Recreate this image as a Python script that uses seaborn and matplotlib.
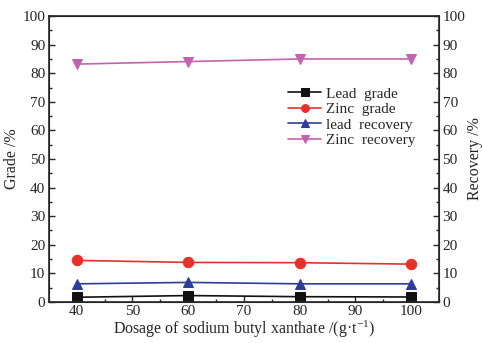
import matplotlib
matplotlib.use("Agg")
import matplotlib.pyplot as plt
import seaborn as sns
import pandas as pd
from matplotlib.ticker import MultipleLocator

dosage = [40, 60, 80, 100]
lead_grade = [1.6, 2.2, 1.8, 1.7]
zinc_grade = [14.5, 13.8, 13.7, 13.2]
lead_recovery = [6.3, 6.8, 6.3, 6.3]
zinc_recovery = [83.2, 84.1, 85.0, 85.0]

series_names = ["Lead  grade", "Zinc  grade", "lead  recovery", "Zinc  recovery"]
colors = ["#111111", "#e8302a", "#2c3e98", "#c462b2"]
markers = ["s", "o", "^", "v"]

sns.set_style("ticks")
plt.rcParams['font.family'] = ['Liberation Serif', 'DejaVu Serif']
plt.rcParams['mathtext.fontset'] = 'stix'

rows = []
for name, vals in zip(series_names, [lead_grade, zinc_grade, lead_recovery, zinc_recovery]):
    for d, v in zip(dosage, vals):
        rows.append({"Dosage": d, "Value": v, "Series": name})
df = pd.DataFrame(rows)

fig = plt.figure(figsize=(4.83, 3.43), dpi=100)
ax = fig.add_axes([0.101, 0.12, 0.808, 0.833])

for name, c, m in zip(series_names, colors, markers):
    sub = df[df["Series"] == name]
    sns.lineplot(data=sub, x="Dosage", y="Value", ax=ax, color=c, marker=m,
                 markersize=7.5, markeredgecolor=c, linewidth=1.2, label=name)

ax.set_xlim(35, 105)
ax.set_ylim(0, 100)
ax.xaxis.set_major_locator(MultipleLocator(10))
ax.xaxis.set_minor_locator(MultipleLocator(5))
ax.yaxis.set_major_locator(MultipleLocator(10))
ax.yaxis.set_minor_locator(MultipleLocator(5))
ax.tick_params(which="both", direction="in", labelsize=11, width=1)
ax.tick_params(which="major", length=4, pad=2.5)
ax.tick_params(which="minor", length=2.5)
ax.set_xlabel("Dosage of sodium butyl xanthate /(g·t$^{\\mathregular{-1}}$)", fontsize=11.5, labelpad=0)
ax.set_ylabel("Grade /%", fontsize=11.5, labelpad=2)
for s in ax.spines.values():
    s.set_linewidth(1.2)

ax2 = ax.twinx()
ax2.set_ylim(0, 100)
ax2.yaxis.set_major_locator(MultipleLocator(10))
ax2.yaxis.set_minor_locator(MultipleLocator(5))
ax2.tick_params(which="both", direction="in", labelsize=11, width=1)
ax2.tick_params(which="major", length=4, pad=2.5)
ax2.tick_params(which="minor", length=2.5)
ax2.set_ylabel("Recovery /%", fontsize=11.5, labelpad=1)

leg = ax.legend(loc="upper left", bbox_to_anchor=(0.585, 0.79), frameon=False,
                fontsize=11, handlelength=2.2, labelspacing=0.12, handletextpad=0.3,
                borderpad=0.2, markerscale=0.75)

fig.savefig("out.png", dpi=100)
